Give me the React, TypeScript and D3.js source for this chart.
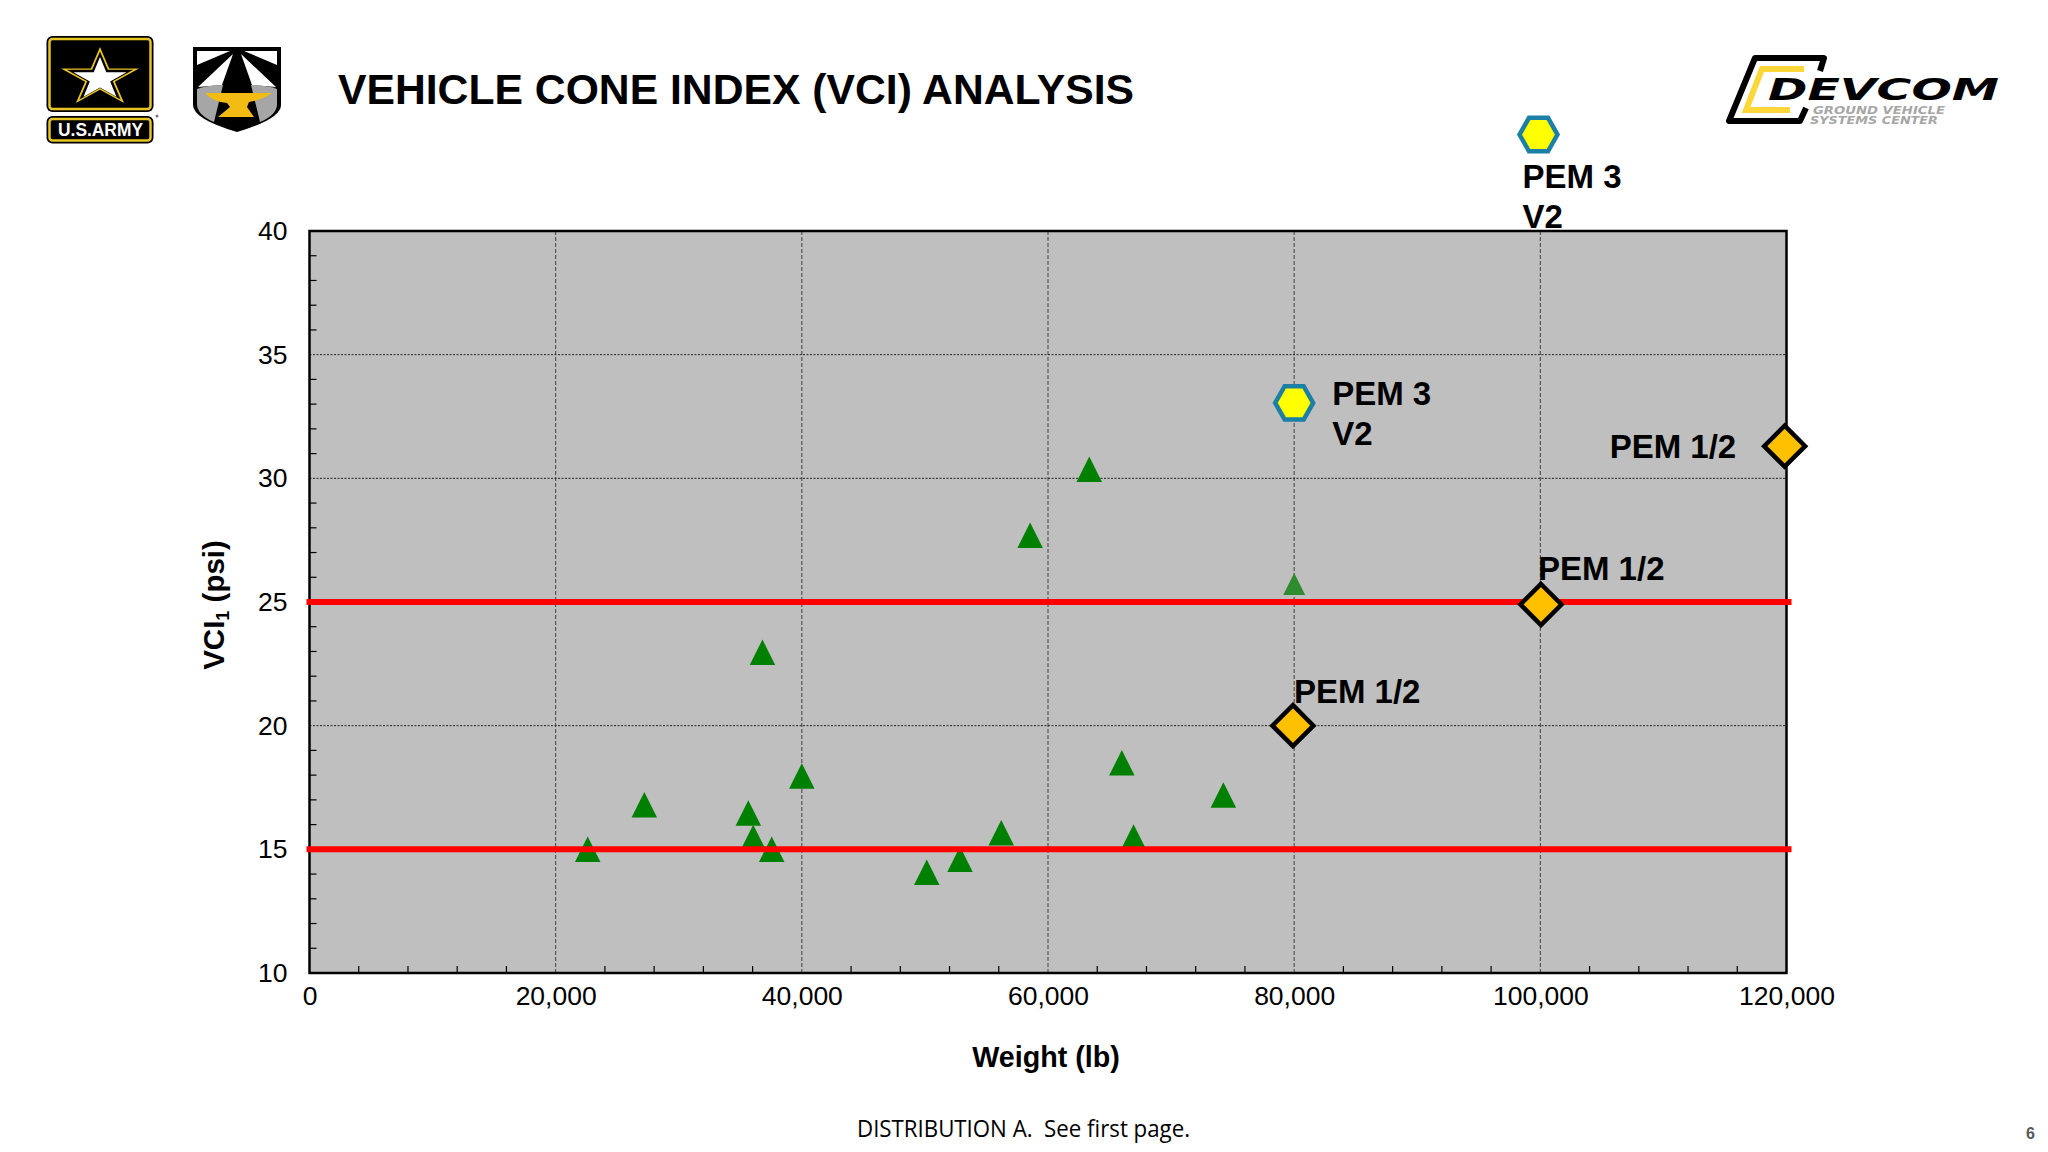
import { useEffect, useRef } from "react";
import * as d3 from "d3";

const width = 2048;
const height = 1152;

const vehicleWeights = [22600, 27200, 35650, 36050, 37550, 36800, 40000, 50150, 52850, 56200, 58550, 63350, 66000, 66950, 74250];
const vehicleVci = [15, 16.8, 16.47, 15.48, 15, 22.97, 17.97, 14.07, 14.6, 15.67, 27.7, 30.37, 18.5, 15.5, 17.2];
const smallVehicleWeight = [80000];
const smallVehicleVci = [25.73];

const pem12Weights = [79900, 100050, 119850];
const pem12Vci = [20, 24.9, 31.3];
const pem3Weights = [80000, 99850];
const pem3Vci = [33.05, 43.9];

const thresholds = [15, 25];
const xTicks = [0, 20000, 40000, 60000, 80000, 100000, 120000];
const yTicks = [10, 15, 20, 25, 30, 35, 40];
const xMinorTicks = d3.range(0, 120001, 4000).filter((v) => v % 20000 !== 0);
const yMinorTicks = d3.range(10, 41, 1).filter((v) => v % 5 !== 0);

const x = d3.scaleLinear().domain([0, 120000]).range([309.5, 1786.5]);
const y = d3.scaleLinear().domain([10, 40]).range([973, 231]);

const triangle = {
  draw(c: any, s: number) {
    c.moveTo(0, -s / 2);
    c.lineTo(s / 2, s / 2);
    c.lineTo(-s / 2, s / 2);
    c.closePath();
  },
};
const diamond = {
  draw(c: any, s: number) {
    c.moveTo(0, -s / 2);
    c.lineTo(s / 2, 0);
    c.lineTo(0, s / 2);
    c.lineTo(-s / 2, 0);
    c.closePath();
  },
};
const hexagon = {
  draw(c: any, s: number) {
    c.moveTo(-s / 2, 0);
    c.lineTo(-s / 4, -s * 0.44);
    c.lineTo(s / 4, -s * 0.44);
    c.lineTo(s / 2, 0);
    c.lineTo(s / 4, s * 0.44);
    c.lineTo(-s / 4, s * 0.44);
    c.closePath();
  },
};

const sans = "'Liberation Sans', Arial, sans-serif";

function star(cx: number, cy: number, rx: number, ry: number) {
  return d3
    .range(10)
    .map((i) => {
      const a = (i * Math.PI) / 5 - Math.PI / 2;
      const r = i % 2 === 0 ? 1 : 0.382;
      return `${cx + rx * r * Math.cos(a)},${cy + ry * r * Math.sin(a)}`;
    })
    .join(" ");
}

function ArmyLogo() {
  return (
    <g>
      <rect x={46.5} y={36} width={107} height={76} rx={6} fill="#000" />
      <rect x={49.5} y={39} width={101} height={70} rx={3} fill="none" stroke="#e8c520" strokeWidth={2.5} />
      <polygon points={star(100, 78, 41, 31)} fill="#e8c520" />
      <polygon points={star(100, 78, 35, 26.5)} fill="#000" />
      <polygon points={star(100, 79, 28, 22)} fill="#fff" />
      <rect x={46.5} y={116} width={107} height={27.5} rx={6} fill="#000" />
      <rect x={49.5} y={119} width={101} height={21.5} rx={3} fill="none" stroke="#e8c520" strokeWidth={2.5} />
      <text x={58} y={136} fill="#fff" fontFamily={sans} fontWeight="bold" fontSize={19} textLength={85} lengthAdjust="spacingAndGlyphs">
        U.S.ARMY
      </text>
      <circle cx={157} cy={116} r={1.5} fill="#777" />
    </g>
  );
}

function ShieldLogo() {
  return (
    <g>
      <path d="M193,47 H281 V105 Q281,119 237,132 Q193,119 193,105 Z" fill="#000" />
      <path d="M197,51 H230 L197,65 Z" fill="#fff" />
      <path d="M277,51 H244 L277,65 Z" fill="#fff" />
      <path d="M233,54 L198,87 L222,85 Z" fill="#fff" />
      <path d="M241,54 L276,87 L252,85 Z" fill="#fff" />
      <path d="M197,89 Q208,85 223,85 L214,122 Q197,115 197,104 Z" fill="#a6a6a6" />
      <path d="M277,89 Q266,85 251,85 L260,122 Q277,115 277,104 Z" fill="#a6a6a6" />
      <path d="M205,93 H272 Q262,100 249,102 L247,107 L254,117 H218 L230,107 L227,103 Q213,102 205,93 Z" fill="#f2bc12" />
    </g>
  );
}

function DevcomLogo() {
  const wide = "'DejaVu Sans', sans-serif";
  return (
    <g>
      <path d="M1820,71 L1824,58 L1755,58 L1729,121 L1800,121 L1806,108" fill="none" stroke="#000" strokeWidth={6} strokeLinejoin="round" />
      <path d="M1804,69 L1762,69 L1746,110 L1790,110" fill="none" stroke="#fdd63a" strokeWidth={6} />
      <text x={1768} y={100} fill="#000" fontFamily={wide} fontWeight="bold" fontStyle="italic" fontSize={30} textLength={231} lengthAdjust="spacingAndGlyphs">
        DEVCOM
      </text>
      <text x={1813} y={114} fill="#a6a6a6" fontFamily={wide} fontWeight="bold" fontStyle="italic" fontSize={10} textLength={132} lengthAdjust="spacingAndGlyphs">
        GROUND VEHICLE
      </text>
      <text x={1810} y={124} fill="#a6a6a6" fontFamily={wide} fontWeight="bold" fontStyle="italic" fontSize={10} textLength={128} lengthAdjust="spacingAndGlyphs">
        SYSTEMS CENTER
      </text>
    </g>
  );
}

export default function App() {
  const xAxisRef = useRef<SVGGElement>(null);
  const yAxisRef = useRef<SVGGElement>(null);

  useEffect(() => {
    const styleAxis = (g: any) => {
      g.select(".domain").remove();
      g.selectAll(".tick line").remove();
      g.selectAll(".tick text").attr("font-family", sans).attr("font-size", 26.5).attr("fill", "#000");
    };
    d3.select(xAxisRef.current!)
      .call(d3.axisBottom(x).tickValues(xTicks).tickFormat(d3.format(",") as any).tickSize(0).tickPadding(13) as any)
      .call(styleAxis);
    d3.select(yAxisRef.current!)
      .call(d3.axisLeft(y).tickValues(yTicks).tickSize(0).tickPadding(22) as any)
      .call(styleAxis);
  }, []);

  const tri = d3.symbol().type(triangle as any);
  const dia = d3.symbol().type(diamond as any);
  const hex = d3.symbol().type(hexagon as any);
  const labelStyle = { fontFamily: sans, fontWeight: "bold" as const, fontSize: 33 };

  return (
    <svg width={width} height={height} viewBox={`0 0 ${width} ${height}`} style={{ position: "absolute", left: 0, top: 0, background: "#fff" }}>
      <ArmyLogo />
      <ShieldLogo />
      <DevcomLogo />
      <text x={338} y={104} fontFamily={sans} fontWeight="bold" fontSize={43} fill="#000" textLength={796} lengthAdjust="spacingAndGlyphs">
        VEHICLE CONE INDEX (VCI) ANALYSIS
      </text>

      <rect x={x(0)} y={y(40)} width={x(120000) - x(0)} height={y(10) - y(40)} fill="#bfbfbf" />

      {xTicks.slice(1, -1).map((v) => (
        <line key={v} x1={x(v)} x2={x(v)} y1={y(10)} y2={y(40)} stroke="#333" strokeWidth={0.9} strokeDasharray="4 2" />
      ))}
      {yTicks.slice(1, -1).map((v) => (
        <line key={v} x1={x(0)} x2={x(120000)} y1={y(v)} y2={y(v)} stroke="#222" strokeWidth={1} strokeDasharray="2 1.5" />
      ))}
      {xMinorTicks.map((v) => (
        <line key={v} x1={x(v)} x2={x(v)} y1={y(10)} y2={y(10) - 7} stroke="#000" strokeWidth={1.2} />
      ))}
      {yMinorTicks.map((v) => (
        <line key={v} x1={x(0)} x2={x(0) + 7} y1={y(v)} y2={y(v)} stroke="#000" strokeWidth={1.2} />
      ))}
      <path d={`M${x(120000)},${y(40)} H${x(0)} V${y(10)} H${x(120000)} Z`} fill="none" stroke="#000" strokeWidth={2.5} />

      <g fill="#008000">
        {vehicleWeights.map((w, i) => (
          <path key={w} transform={`translate(${x(w)},${y(vehicleVci[i])})`} d={tri.size(25.5)()!} />
        ))}
        {smallVehicleWeight.map((w, i) => (
          <path key={w} transform={`translate(${x(w)},${y(smallVehicleVci[i])})`} d={tri.size(22)()!} fill="#2e8b2e" />
        ))}
      </g>

      {thresholds.map((v) => (
        <line key={v} x1={x(0) - 3} x2={x(120000) + 5} y1={y(v)} y2={y(v)} stroke="#ff0000" strokeWidth={6} />
      ))}

      {pem12Weights.map((w, i) => (
        <path key={w} transform={`translate(${x(w)},${y(pem12Vci[i])})`} d={dia.size(41)()!} fill="#ffc000" stroke="#000" strokeWidth={4.5} strokeLinejoin="miter" />
      ))}
      {pem3Weights.map((w, i) => (
        <path key={w} transform={`translate(${x(w)},${y(pem3Vci[i])})`} d={hex.size(38)()!} fill="#ffff00" stroke="#1b7fa6" strokeWidth={4.5} />
      ))}

      <text x={x(pem12Weights[0]) + 1} y={y(pem12Vci[0]) - 23} {...labelStyle}>PEM 1/2</text>
      <text x={x(pem12Weights[1]) - 3} y={y(pem12Vci[1]) - 24} {...labelStyle}>PEM 1/2</text>
      <text x={x(pem12Weights[2]) - 175} y={y(pem12Vci[2]) + 12} {...labelStyle}>PEM 1/2</text>
      <text x={x(pem3Weights[0]) + 38} y={y(pem3Vci[0]) + 2} {...labelStyle}>PEM 3</text>
      <text x={x(pem3Weights[0]) + 38} y={y(pem3Vci[0]) + 42} {...labelStyle}>V2</text>
      <text x={x(pem3Weights[1]) - 16} y={y(pem3Vci[1]) + 53} {...labelStyle}>PEM 3</text>
      <text x={x(pem3Weights[1]) - 16} y={y(pem3Vci[1]) + 93} {...labelStyle}>V2</text>

      <g ref={xAxisRef} transform={`translate(0,${y(10)})`} />
      <g ref={yAxisRef} transform={`translate(${x(0)},0)`} />

      <text x={1046} y={1067} textAnchor="middle" fontFamily={sans} fontWeight="bold" fontSize={28.7} fill="#000">
        Weight (lb)
      </text>
      <text transform="translate(224,605) rotate(-90)" textAnchor="middle" fontFamily={sans} fontWeight="bold" fontSize={29.5} fill="#000">
        VCI<tspan fontSize={18} dy={5}>1</tspan>
        <tspan dy={-5}> (psi)</tspan>
      </text>

      <text x={857} y={1137} fontFamily="'Open Sans', sans-serif" fontSize={23} fill="#000" textLength={333} lengthAdjust="spacingAndGlyphs" xmlSpace="preserve">
        DISTRIBUTION A.  See first page.
      </text>
      <text x={2026} y={1139} fontFamily={sans} fontWeight="bold" fontSize={16} fill="#595959">
        6
      </text>
    </svg>
  );
}
